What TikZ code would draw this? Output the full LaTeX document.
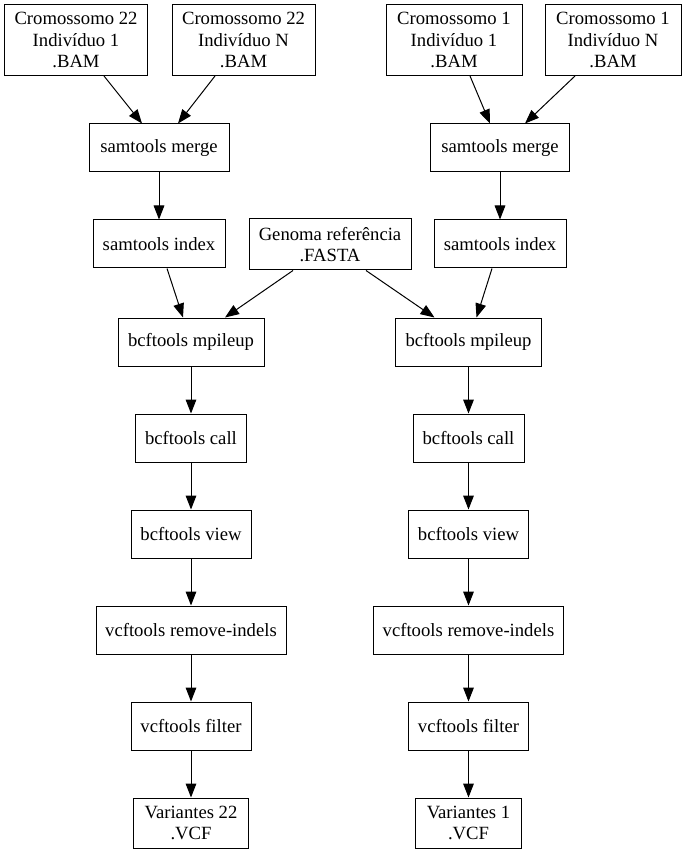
\documentclass[tikz,border=0pt]{standalone}
\usepackage{fontspec}
\setmainfont{Liberation Serif}
\usetikzlibrary{calc,arrows.meta}
\begin{document}
\begin{tikzpicture}[x=0.75pt,y=-0.75pt,
  box/.style={draw,line width=0.75pt,inner sep=0pt,align=center,
    font=\fontsize{14}{16.4}\selectfont},
  arr/.style={-{Triangle[length=10.5pt,width=8pt]},line width=0.75pt}]
\useasboundingbox (0,0) rectangle (685,855);
% top row
\node[box,minimum width=143*0.75pt,minimum height=71*0.75pt] (c22a) at (76,40) {Cromossomo 22\\Indivíduo 1\\.BAM};
\node[box,minimum width=143*0.75pt,minimum height=71*0.75pt] (c22n) at (243.5,40) {Cromossomo 22\\Indivíduo N\\.BAM};
\node[box,minimum width=136*0.75pt,minimum height=71*0.75pt] (c1a) at (454,40) {Cromossomo 1\\Indivíduo 1\\.BAM};
\node[box,minimum width=136*0.75pt,minimum height=71*0.75pt] (c1n) at (613,40) {Cromossomo 1\\Indivíduo N\\.BAM};
% merge
\node[box,minimum width=140*0.75pt,minimum height=48*0.75pt] (mergeL) at (159,148) {samtools merge};
\node[box,minimum width=139*0.75pt,minimum height=48*0.75pt] (mergeR) at (500,148) {samtools merge};
% index + genome
\node[box,minimum width=132*0.75pt,minimum height=48*0.75pt] (indexL) at (159,244) {samtools index};
\node[box,minimum width=162*0.75pt,minimum height=51*0.75pt] (gen) at (330,244.5) {Genoma referência\\.FASTA};
\node[box,minimum width=132*0.75pt,minimum height=48*0.75pt] (indexR) at (500,244) {samtools index};
% mpileup
\node[box,minimum width=146*0.75pt,minimum height=48*0.75pt] (mpL) at (191,342) {bcftools mpileup};
\node[box,minimum width=146*0.75pt,minimum height=48*0.75pt] (mpR) at (468.5,342) {bcftools mpileup};
% call
\node[box,minimum width=111*0.75pt,minimum height=48*0.75pt] (callL) at (191,438) {bcftools call};
\node[box,minimum width=111*0.75pt,minimum height=48*0.75pt] (callR) at (468.5,438) {bcftools call};
% view
\node[box,minimum width=120*0.75pt,minimum height=48*0.75pt] (viewL) at (191,534) {bcftools view};
\node[box,minimum width=120*0.75pt,minimum height=48*0.75pt] (viewR) at (468.5,534) {bcftools view};
% remove-indels
\node[box,minimum width=190*0.75pt,minimum height=48*0.75pt] (remL) at (191,630) {vcftools remove-indels};
\node[box,minimum width=190*0.75pt,minimum height=48*0.75pt] (remR) at (468.5,630) {vcftools remove-indels};
% filter
\node[box,minimum width=120*0.75pt,minimum height=48*0.75pt] (filL) at (191,726) {vcftools filter};
\node[box,minimum width=120*0.75pt,minimum height=48*0.75pt] (filR) at (468.5,726) {vcftools filter};
% variants
\node[box,minimum width=115*0.75pt,minimum height=50*0.75pt] (varL) at (191,823) {Variantes 22\\.VCF};
\node[box,minimum width=106*0.75pt,minimum height=50*0.75pt] (varR) at (468.5,823) {Variantes 1\\.VCF};
% edges
\draw[arr] ($(c22a.south)+(28,0)$) -- ($(mergeL.north)+(-17,0)$);
\draw[arr] ($(c22n.south)+(-28.5,0)$) -- ($(mergeL.north)+(19,0)$);
\draw[arr] ($(c1a.south)+(16,0)$) -- ($(mergeR.north)+(-10,0)$);
\draw[arr] ($(c1n.south)+(-38,0)$) -- ($(mergeR.north)+(25,0)$);
\draw[arr] (mergeL) -- (indexL);
\draw[arr] (mergeR) -- (indexR);
\draw[arr] ($(indexL.south)+(8,0)$) -- ($(mpL.north)+(-8,0)$);
\draw[arr] ($(gen.south)+(-37,0)$) -- ($(mpL.north)+(34,0)$);
\draw[arr] ($(gen.south)+(36,0)$) -- ($(mpR.north)+(-34,0)$);
\draw[arr] ($(indexR.south)+(-8,0)$) -- ($(mpR.north)+(8,0)$);
\foreach \a/\b in {mpL/callL,callL/viewL,viewL/remL,remL/filL,filL/varL,
                   mpR/callR,callR/viewR,viewR/remR,remR/filR,filR/varR}
  \draw[arr] (\a) -- (\b);
\end{tikzpicture}
\end{document}
